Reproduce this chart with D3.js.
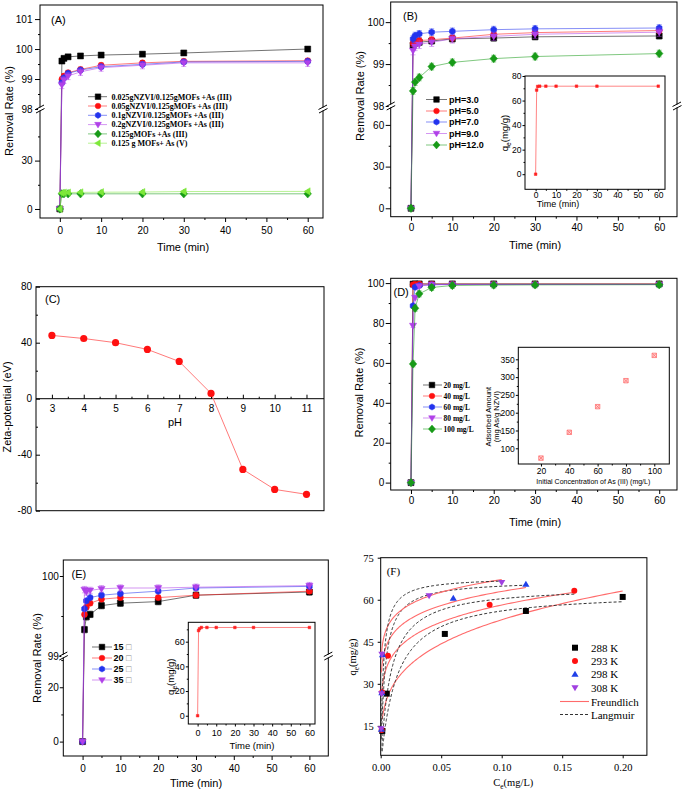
<!DOCTYPE html>
<html><head><meta charset="utf-8">
<script src="https://cdn.jsdelivr.net/npm/d3@7"></script>
<style>body{margin:0;background:#fff}svg{display:block}</style>
</head><body>
<script>
// ================= DATA =================
const times = [0, 0.5, 1, 2, 5, 10, 20, 30, 60];
const timeTicks = [0, 10, 20, 30, 40, 50, 60];
const timeMinor = [5, 15, 25, 35, 45, 55];

// (A) dosage series
const A_names = ['0.025gNZVI/0.125gMOFs +As (III)', '0.05gNZVI/0.125gMOFs +As (III)', '0.1gNZVI/0.125gMOFs +As (III)', '0.2gNZVI/0.125gMOFs +As (III)', '0.125gMOFs +As (III)', '0.125 g MOFs+ As (V)'];
const A_s1 = [0, 99.6, 99.69, 99.74, 99.77, 99.8, 99.83, 99.87, 100.0];
const A_s2 = [0, 98.99, 99.1, 99.21, 99.32, 99.46, 99.54, 99.59, 99.61];
const A_s3 = [0, 98.88, 99.04, 99.19, 99.3, 99.41, 99.49, 99.57, 99.59];
const A_s4 = [0, 98.8, 98.97, 99.1, 99.24, 99.38, 99.46, 99.54, 99.54];
const A_s5 = [0, 9.4, 9.4, 9.4, 9.4, 9.4, 9.4, 9.4, 9.4];
const A_s6 = [0, 9.9, 10.2, 10.2, 10.3, 10.4, 10.5, 10.8, 10.9];
const A_err = [0.08, 0.08, 0.08, 0.12, 0.5, 0.5];

// (B) pH series
const B_names = ['pH=3.0', 'pH=5.0', 'pH=7.0', 'pH=9.0', 'pH=12.0'];
const B_s1 = [0, 99.45, 99.5, 99.52, 99.55, 99.6, 99.62, 99.65, 99.67];
const B_s2 = [0, 99.5, 99.54, 99.56, 99.58, 99.62, 99.71, 99.75, 99.8];
const B_s3 = [0, 99.6, 99.68, 99.72, 99.76, 99.78, 99.82, 99.84, 99.86];
const B_s4 = [0, 99.32, 99.42, 99.47, 99.52, 99.6, 99.66, 99.71, 99.76];
const B_s5 = [0, 98.36, 98.57, 98.68, 98.94, 99.04, 99.13, 99.18, 99.25];
const B_err = [0.07, 0.07, 0.08, 0.1, 0.08];
const B_inset_q = [0, 68.5, 71.5, 71.7, 71.7, 71.7, 71.7, 71.7, 71.7];

// (C) zeta potential
const C_pH = [3, 4, 5, 6, 7, 8, 9, 10, 11];
const C_zeta = [45.2, 43, 40, 35.2, 26.6, 3.8, -50.5, -64.8, -68.3];

// (D) initial concentration series
const D_names = ['20 mg/L', '40 mg/L', '60 mg/L', '80 mg/L', '100 mg/L'];
const D_s1 = [0, 99.5, 99.6, 99.6, 99.6, 99.6, 99.6, 99.6, 99.6];
const D_s2 = [0, 99.2, 99.4, 99.5, 99.5, 99.5, 99.5, 99.5, 99.5];
const D_s3 = [0, 88.6, 98, 98.8, 99.2, 99.3, 99.3, 99.3, 99.3];
const D_s4 = [0, 78.7, 92.7, 98.5, 99.2, 99.3, 99.3, 99.3, 99.3];
const D_s5 = [0, 59.5, 87.4, 94.6, 97.8, 98.8, 99.0, 99.1, 99.2];
const D_err = [1, 1, 1, 1, 1.5];
const D_inset_c = [20, 40, 60, 80, 100];
const D_inset_q = [72.5, 145, 217, 290, 361];

// (E) temperature series
const E_names = ['15', '20', '25', '35'];
const E_s1 = [0, 99.33, 99.49, 99.52, 99.63, 99.66, 99.68, 99.76, 99.8];
const E_s2 = [0, 99.52, 99.61, 99.66, 99.71, 99.73, 99.73, 99.76, 99.81];
const E_s3 = [0, 99.59, 99.69, 99.73, 99.76, 99.78, 99.81, 99.85, 99.87];
const E_s4 = [0, 99.83, 99.8, 99.82, 99.84, 99.85, 99.85, 99.86, 99.88];
const E_err = [0.04, 0.03, 0.03, 0.04];
const E_inset_q = [0, 69, 70.5, 71.5, 71.5, 71.5, 71.5, 71.5, 71.5];

// (F) isotherms
const F_names = ['288 K', '293 K', '298 K', '308 K'];
const F_C288 = [0.0013, 0.005, 0.053, 0.12, 0.2];
const F_q288 = [13.2, 26.5, 47.8, 56, 61];
const F_C293 = [0.0008, 0.0012, 0.006, 0.09, 0.16];
const F_q293 = [13.5, 27, 40, 58.2, 63.2];
const F_C298 = [0.0006, 0.001, 0.0015, 0.06, 0.12];
const F_q298 = [13.8, 26.8, 40.3, 60.5, 65.5];
const F_C308 = [0.0004, 0.0007, 0.001, 0.04, 0.1];
const F_q308 = [14, 26.5, 40.6, 61.5, 66.2];
// fitted model parameters (Freundlich Kf, 1/n ; Langmuir qm, KL)
const F_Kf = [95.3, 84, 83, 84.6];
const F_invn = [0.256, 0.16, 0.12, 0.1];
const L_qm = [63, 65, 67, 68];
const L_K = [80, 130, 300, 500];

// ================= DRAWING =================
const W = 685, H = 792;
const SANS = '"Liberation Sans", Arial, Helvetica, sans-serif';
const SERIF = '"Liberation Serif", "Times New Roman", Times, serif';
const svg = d3.select('body').append('svg').attr('width', W).attr('height', H);

const COL = {black:'#000000', red:'#ff1010', blue:'#2233ee', purple:'#b040e8', green:'#179a17', lgreen:'#7ee83a'};

function mk(shape, s){
  switch(shape){
    case 'square': return `M${-s},${-s}H${s}V${s}H${-s}Z`;
    case 'circle': return `M${-s},0A${s},${s} 0 1,0 ${s},0A${s},${s} 0 1,0 ${-s},0Z`;
    case 'hex': { const r=s*1.1; return 'M'+d3.range(6).map(i=>{const a=-Math.PI/2+i*Math.PI/3;return [r*Math.cos(a),r*Math.sin(a)].join(',');}).join('L')+'Z'; }
    case 'tdown': return `M${-s*1.2},${-s*0.8}L${s*1.2},${-s*0.8}L0,${s*1.2}Z`;
    case 'tup': return `M${-s*1.2},${s*0.8}L${s*1.2},${s*0.8}L0,${-s*1.2}Z`;
    case 'diamond': return `M0,${-s*1.4}L${s*1.25},0L0,${s*1.4}L${-s*1.25},0Z`;
    case 'tleft': return `M${-s*1.2},0L${s*0.8},${-s*1.2}L${s*0.8},${s*1.2}Z`;
    case 'xsq': return `M${-s},${-s}H${s}V${s}H${-s}ZM${-s},${-s}L${s},${s}M${s},${-s}L${-s},${s}`;
  }
}

function line(x1,y1,x2,y2,col='#000',w=1){
  svg.append('line').attr('x1',x1).attr('y1',y1).attr('x2',x2).attr('y2',y2).attr('stroke',col).attr('stroke-width',w);
}
function frame(x0,y0,x1,y1,fill){
  svg.append('rect').attr('x',x0).attr('y',y0).attr('width',x1-x0).attr('height',y1-y0)
    .attr('fill',fill||'none').attr('stroke','#000').attr('stroke-width',1);
}
function axis(orient, scale, pos, major, minor, o={}){
  const dir = o.inward ? -1 : 1, len = o.len ?? 4, mlen = o.mlen ?? 2;
  const gen = {bottom:d3.axisBottom, left:d3.axisLeft, top:d3.axisTop, right:d3.axisRight}[orient];
  const tr = (orient==='bottom'||orient==='top') ? `translate(0,${pos})` : `translate(${pos},0)`;
  if (minor && minor.length){
    const gm = svg.append('g').attr('transform',tr).call(gen(scale).tickValues(minor).tickSizeInner(mlen*dir).tickSizeOuter(0).tickFormat(''));
    gm.select('.domain').remove(); gm.selectAll('line').attr('stroke','#000');
  }
  const g = svg.append('g').attr('transform',tr).call(gen(scale).tickValues(major).tickSizeInner(len*dir).tickSizeOuter(0).tickPadding(o.pad ?? 3).tickFormat(o.fmt || (d=>d)));
  g.select('.domain').remove();
  g.selectAll('line').attr('stroke','#000');
  g.selectAll('text').attr('font-family',o.font||SANS).attr('font-size',o.fs||10).attr('fill','#000');
  return g;
}
function text(x,y,s,fs,o={}){
  return svg.append('text').attr('x',x).attr('y',y).text(s).attr('font-size',fs)
    .attr('font-family',o.font||SANS).attr('font-weight',o.weight||'normal')
    .attr('text-anchor',o.anchor||'start').attr('fill',o.fill||'#000');
}
function rtext(x,y,s,fs,o={}){
  return svg.append('text').attr('transform',`translate(${x},${y}) rotate(-90)`).text(s).attr('font-size',fs)
    .attr('font-family',o.font||SANS).attr('text-anchor','middle').attr('fill','#000');
}
function subLabel(x,y,a,b,c,fs,font,rot){
  const t = svg.append('text').attr('transform',`translate(${x},${y})`+(rot?' rotate(-90)':''))
    .attr('text-anchor','middle').attr('font-family',font).attr('font-size',fs).attr('fill','#000');
  t.append('tspan').text(a);
  t.append('tspan').attr('font-size',fs*0.7).attr('dy',fs*0.3).text(b);
  t.append('tspan').attr('dy',-fs*0.3).text(c);
}
function breakMark(x,y){
  svg.append('rect').attr('x',x-2).attr('y',y-1.5).attr('width',4).attr('height',3).attr('fill','#fff');
  svg.append('path').attr('d',`M${x-4.5},${y+0.5}L${x+4},${y-4}M${x-4},${y+4}L${x+4.5},${y-0.5}`)
    .attr('stroke','#000').attr('stroke-width',1).attr('fill','none');
}
function brokenScale(lo, hi){ return v => v >= hi.domain()[0] ? hi(v) : lo(v); }

function drawSeries(xs, ys, xS, yS, st, err, ms){
  const g = svg.append('g');
  const pts = xs.map((x,i)=>[xS(x), yS(ys[i])]);
  g.append('path').attr('d', d3.line()(pts)).attr('fill','none').attr('stroke',st.color)
    .attr('stroke-width',1).attr('stroke-opacity',0.55);
  if (err) xs.forEach((x,i)=>{
    if (i===0) return;
    const y1 = yS(ys[i]-err), y2 = yS(ys[i]+err), cx = xS(x);
    g.append('path').attr('d',`M${cx},${y1}V${y2}M${cx-2.5},${y1}H${cx+2.5}M${cx-2.5},${y2}H${cx+2.5}`)
      .attr('stroke',st.color).attr('stroke-opacity',0.45).attr('fill','none');
  });
  xs.forEach((x,i)=> g.append('path').attr('transform',`translate(${xS(x)},${yS(ys[i])})`)
    .attr('d',mk(st.shape,ms)).attr('fill',st.color).attr('stroke',st.color).attr('stroke-width',0.5));
}
function legend(names, styles, ys, xl0, xl1, xm, xt, fs, font, ms, suffix){
  names.forEach((n,i)=>{
    const st = styles[i], y = ys[i];
    svg.append('line').attr('x1',xl0).attr('x2',xl1).attr('y1',y).attr('y2',y).attr('stroke',st.color).attr('stroke-opacity',0.55);
    svg.append('path').attr('transform',`translate(${xm},${y})`).attr('d',mk(st.shape,ms)).attr('fill',st.color).attr('stroke',st.color).attr('stroke-width',0.5);
    const t = text(xt, y+fs*0.36, n, fs, {font, weight:'bold'});
    if (suffix) t.append('tspan').attr('font-weight','normal').attr('fill','#888').text(suffix);
  });
}

// ---------- Panel A ----------
{
  const x = d3.scaleLinear([-4.8, 63.7], [40, 323]);
  const yLo = d3.scaleLinear([-5.6, 62], [218, 109]);
  const yHi = d3.scaleLinear([98, 101.47], [109, 5]);
  const y = brokenScale(yLo, yHi);
  frame(40, 5, 323, 218);
  axis('bottom', x, 218, timeTicks, timeMinor, {len:4, pad:5, fs:10});
  axis('left', yHi, 40, [98, 99, 100, 101], [98.5, 99.5, 100.5], {len:5, pad:2.5, fs:10});
  axis('left', yLo, 40, [0, 30], [15, 45], {len:5, pad:2.5, fs:10});
  const styles = [{color:COL.black,shape:'square'},{color:COL.red,shape:'circle'},{color:COL.blue,shape:'hex'},
                  {color:COL.purple,shape:'tdown'},{color:COL.green,shape:'diamond'},{color:COL.lgreen,shape:'tleft'}];
  [A_s1,A_s2,A_s3,A_s4,A_s5,A_s6].forEach((s,i)=>drawSeries(times, s, x, y, styles[i], A_err[i], 3));
  breakMark(40,109); breakMark(323,109);
  legend(A_names, styles, d3.range(6).map(i=>96.7+i*9.3), 88, 107, 98, 111.5, 8, SERIF, 2.8);
  rtext(12.5, 111, 'Removal Rate (%)', 11);
  text(183, 251, 'Time (min)', 11, {anchor:'middle'});
  text(51, 24, '(A)', 11);
}

// ---------- Panel B ----------
{
  const x = d3.scaleLinear([-4.9, 64.3], [390.7, 677]);
  const yLo = d3.scaleLinear([-6.05, 73.6], [216.7, 106]);
  const yHi = d3.scaleLinear([98, 100.48], [106, 2]);
  const y = brokenScale(yLo, yHi);
  frame(390.7, 2, 677, 216.7);
  axis('bottom', x, 216.7, timeTicks, timeMinor, {len:4, pad:3, fs:10});
  axis('left', yHi, 390.7, [98, 99, 100], [98.5, 99.5], {len:5, pad:1.5, fs:10});
  axis('left', yLo, 390.7, [0, 30, 60], [15, 45], {len:5, pad:1.5, fs:10});
  const styles = [{color:COL.black,shape:'square'},{color:COL.red,shape:'circle'},{color:COL.blue,shape:'hex'},
                  {color:COL.purple,shape:'tdown'},{color:COL.green,shape:'diamond'}];
  [B_s1,B_s2,B_s3,B_s4,B_s5].forEach((s,i)=>drawSeries(times, s, x, y, styles[i], B_err[i], 3));
  breakMark(390.7,106); breakMark(677,106);
  legend(B_names, styles, [99.5,111,122,133.5,145], 426, 447, 436.5, 449, 9, SANS, 2.8);
  rtext(364, 96, 'Removal Rate (%)', 11);
  text(535, 249, 'Time (min)', 11, {anchor:'middle'});
  text(403, 20, '(B)', 11);
  // inset
  const ix = d3.scaleLinear([-5.2, 63.3], [525, 665]);
  const iy = d3.scaleLinear([-12.3, 80], [189.3, 76]);
  frame(525, 76, 665, 189.3, '#fff');
  axis('bottom', ix, 189.3, timeTicks, timeMinor, {len:2, mlen:1.5, pad:0.5, fs:8.5});
  axis('left', iy, 525, [0,20,40,60,80], [10,30,50,70], {len:2.5, mlen:1.5, pad:1, fs:8.5});
  drawSeries(times, B_inset_q, ix, iy, {color:'#ff2020', shape:'square'}, 0, 1.3);
  text(558, 207, 'Time (min)', 9, {anchor:'middle'});
  subLabel(508, 133, 'q', 'e', '(mg/g)', 9.5, SANS, true);
}

// ---------- Panel C ----------
{
  const x = d3.scaleLinear([2.5, 11.55], [36, 324]);
  const y = d3.scaleLinear([-80, 80], [510.7, 286.7]);
  frame(36, 286.7, 324, 510.7);
  line(36, y(0), 324, y(0));
  axis('bottom', x, y(0), C_pH, d3.range(3.5, 11, 1), {inward:true, len:4, mlen:2, pad:6, fs:10});
  axis('left', y, 36, [-80,-40,0,40,80], [-60,-20,20,60], {inward:true, len:4, mlen:2, pad:4, fs:10});
  const pts = C_pH.map((p,i)=>[x(p), y(C_zeta[i])]);
  svg.append('path').attr('d', d3.line()(pts)).attr('fill','none').attr('stroke','#ff7a7a').attr('stroke-width',1);
  pts.forEach(p=>svg.append('path').attr('transform',`translate(${p[0]},${p[1]})`).attr('d',mk('circle',3.6)).attr('fill','#ff1010'));
  rtext(11, 407, 'Zeta-potential (eV)', 11);
  text(175, 426, 'pH', 11, {anchor:'middle'});
  text(45, 303, '(C)', 11);
}

// ---------- Panel D ----------
{
  const x = d3.scaleLinear([-4.9, 64.3], [390.7, 677]);
  const y = d3.scaleLinear([-3.7, 102.4], [490, 278.3]);
  frame(390.7, 278.3, 677, 490);
  axis('bottom', x, 490, timeTicks, timeMinor, {len:4, pad:3, fs:10});
  axis('left', y, 390.7, [0,20,40,60,80,100], [10,30,50,70,90], {len:5, pad:1.5, fs:10});
  const styles = [{color:COL.black,shape:'square'},{color:COL.red,shape:'circle'},{color:COL.blue,shape:'hex'},
                  {color:COL.purple,shape:'tdown'},{color:COL.green,shape:'diamond'}];
  [D_s1,D_s2,D_s3,D_s4,D_s5].forEach((s,i)=>drawSeries(times, s, x, y, styles[i], D_err[i], 3));
  legend(D_names, styles, [385,396,407,418,429], 423, 442, 432, 443.5, 7.5, SERIF, 2.8);
  rtext(363, 392.5, 'Removal Rate (%)', 11);
  text(535, 526, 'Time (min)', 11, {anchor:'middle'});
  text(393.5, 296, '(D)', 11);
  // inset
  const ix = d3.scaleLinear([4, 110.6], [518.3, 669.3]);
  const iy = d3.scaleLinear([55.9, 383.7], [464, 347.3]);
  frame(518.3, 347.3, 669.3, 464, '#fff');
  axis('bottom', ix, 464, [20,40,60,80,100], [30,50,70,90], {len:2.5, mlen:1.5, pad:1.5, fs:8.5});
  axis('left', iy, 518.3, [100,150,200,250,300,350], [125,175,225,275,325], {len:2.5, mlen:1.5, pad:1, fs:8.5});
  D_inset_c.forEach((c,i)=>svg.append('path').attr('transform',`translate(${ix(c)},${iy(D_inset_q[i])})`)
    .attr('d',mk('xsq',2.2)).attr('fill','#ffd6d6').attr('stroke','#ff7070').attr('stroke-width',0.8));
  text(593.3, 484, 'Initial Concentration of As (III) (mg/L)', 7, {anchor:'middle'});
  rtext(491, 416.7, 'Adsorbed Amount', 7.5);
  rtext(498.5, 416.7, '(mg As/g NZVI)', 7.5);
}

// ---------- Panel E ----------
{
  const x = d3.scaleLinear([-5.1, 65], [63.3, 328.3]);
  const yLo = d3.scaleLinear([-5.3, 31.5], [756, 656]);
  const yHi = d3.scaleLinear([99, 100.2], [656, 560]);
  const y = brokenScale(yLo, yHi);
  frame(63.3, 560, 328.3, 756);
  axis('bottom', x, 756, timeTicks, timeMinor, {len:4, pad:5, fs:10});
  axis('left', yHi, 63.3, [99, 100], [99.5], {len:3.5, pad:1, fs:10});
  axis('left', yLo, 63.3, [0, 20], [10, 30], {len:3.5, pad:1, fs:10});
  const styles = [{color:COL.black,shape:'square'},{color:COL.red,shape:'circle'},{color:COL.blue,shape:'hex'},
                  {color:COL.purple,shape:'tdown'}];
  [E_s1,E_s2,E_s3,E_s4].forEach((s,i)=>drawSeries(times, s, x, y, styles[i], E_err[i], 3));
  breakMark(63.3,656); breakMark(328.3,656);
  legend(E_names, styles, [647,658,669,680], 92, 112, 102, 113.5, 9, SANS, 2.8, ' \u25A1');
  rtext(41, 658, 'Removal Rate (%)', 11);
  text(196, 786.5, 'Time (min)', 11, {anchor:'middle'});
  text(71.5, 578, '(E)', 11);
  // inset
  const ix = d3.scaleLinear([-5, 63], [188.3, 315]);
  const iy = d3.scaleLinear([-6.7, 75.7], [724, 622.3]);
  frame(188.3, 622.3, 315, 724, '#fff');
  axis('bottom', ix, 724, timeTicks, timeMinor, {len:2.5, mlen:1.5, pad:3, fs:9});
  axis('left', iy, 188.3, [0,20,40,60], [10,30,50,70], {len:2.5, mlen:1.5, pad:1, fs:9});
  drawSeries(times, E_inset_q, ix, iy, {color:'#ff2020', shape:'square'}, 0, 1.3);
  text(252, 748.5, 'Time (min)', 9.5, {anchor:'middle'});
  subLabel(174, 676.7, 'q', 'e', '(mg/g)', 9.5, SANS, true);
}

// ---------- Panel F ----------
{
  const x = d3.scaleLinear([0, 0.22], [380.7, 646.9]);
  const y = d3.scaleLinear([4.5, 75], [755.3, 557.7]);
  svg.append('clipPath').attr('id','clipF').append('rect').attr('x',380.7).attr('y',557.7).attr('width',266.2).attr('height',197.6);
  frame(380.7, 557.7, 646.9, 755.3);
  axis('bottom', x, 755.3, [0,0.05,0.1,0.15,0.2], null, {len:3, pad:5, fs:10.5, font:SERIF, fmt:d3.format('.2f')});
  axis('left', y, 380.7, [15,30,45,60,75], null, {len:3, pad:4, fs:10.5, font:SERIF});
  const Cs = [F_C288, F_C293, F_C298, F_C308], Qs = [F_q288, F_q293, F_q298, F_q308];
  const gC = svg.append('g').attr('clip-path','url(#clipF)');
  Cs.forEach((cs,k)=>{
    const c0 = cs[0], c1 = cs[cs.length-1];
    const grid = d3.range(0, 201).map(i => c0*Math.pow(c1/c0, i/200));
    const fr = grid.map(c => [x(c), y(F_Kf[k]*Math.pow(c, F_invn[k]))]);
    const lg = grid.map(c => [x(c), y(L_qm[k]*L_K[k]*c/(1+L_K[k]*c))]);
    gC.append('path').attr('d', d3.line()(fr)).attr('fill','none').attr('stroke','#ff6b6b').attr('stroke-width',1.1);
    gC.append('path').attr('d', d3.line()(lg)).attr('fill','none').attr('stroke','#333').attr('stroke-width',1).attr('stroke-dasharray','3,2');
  });
  const fst = [{color:'#000',shape:'square'},{color:'#ff1010',shape:'circle'},{color:'#2040e8',shape:'tup'},{color:'#a040e0',shape:'tdown'}];
  Cs.forEach((cs,k)=>cs.forEach((c,i)=>svg.append('path').attr('transform',`translate(${x(c)},${y(Qs[k][i])})`)
    .attr('d',mk(fst[k].shape,3)).attr('fill',fst[k].color)));
  // legend
  const ly = [647.7, 661, 674.3, 687.7, 701.5, 714.5];
  F_names.forEach((n,k)=>{
    svg.append('path').attr('transform',`translate(575,${ly[k]})`).attr('d',mk(fst[k].shape,3)).attr('fill',fst[k].color);
    text(591, ly[k]+4, n, 11, {font:SERIF});
  });
  line(560, ly[4], 589, ly[4], '#ff6b6b', 1.1);
  svg.append('line').attr('x1',560).attr('x2',589).attr('y1',ly[5]).attr('y2',ly[5]).attr('stroke','#333').attr('stroke-dasharray','3,2');
  text(591, ly[4]+4, 'Freundlich', 11, {font:SERIF});
  text(591, ly[5]+4, 'Langmuir', 11, {font:SERIF});
  subLabel(356, 657, 'q', 'e', '(mg/g)', 10.5, SERIF, true);
  subLabel(513.3, 786, 'C', 'e', '(mg/L)', 10.5, SERIF, false);
  text(386.7, 574.5, '(F)', 11, {font:SERIF});
}
</script>
</body></html>
